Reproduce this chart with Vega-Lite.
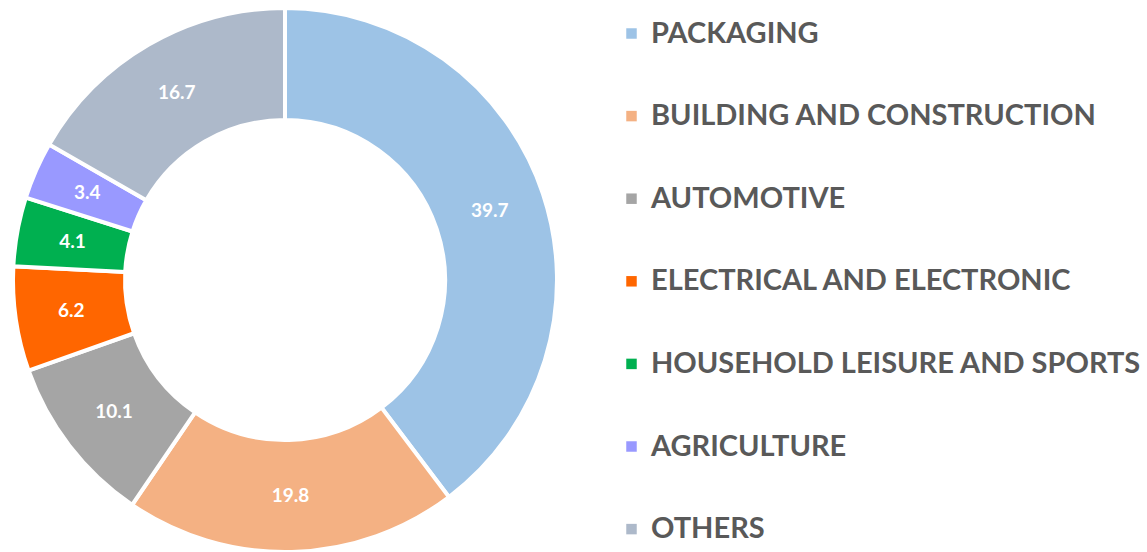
{
  "$schema": "https://vega.github.io/schema/vega-lite/v6.json",
  "width": 570,
  "height": 552,
  "padding": 0,
  "background": "white",
  "config": {"view": {"stroke": null}},
  "data": {"values": [
    {"sector": "PACKAGING", "share": 39.7, "rank": 1},
    {"sector": "BUILDING AND CONSTRUCTION", "share": 19.8, "rank": 2},
    {"sector": "AUTOMOTIVE", "share": 10.1, "rank": 3},
    {"sector": "ELECTRICAL AND ELECTRONIC", "share": 6.2, "rank": 4},
    {"sector": "HOUSEHOLD LEISURE AND SPORTS", "share": 4.1, "rank": 5},
    {"sector": "AGRICULTURE", "share": 3.4, "rank": 6},
    {"sector": "OTHERS", "share": 16.7, "rank": 7}
  ]},
  "encoding": {
    "theta": {"field": "share", "type": "quantitative", "stack": true},
    "order": {"field": "rank", "type": "quantitative"}
  },
  "layer": [
    {
      "mark": {"type": "arc", "outerRadius": 272, "innerRadius": 160, "stroke": "white", "strokeWidth": 4},
      "encoding": {
        "color": {
          "field": "sector", "type": "nominal",
          "sort": ["PACKAGING", "BUILDING AND CONSTRUCTION", "AUTOMOTIVE", "ELECTRICAL AND ELECTRONIC", "HOUSEHOLD LEISURE AND SPORTS", "AGRICULTURE", "OTHERS"],
          "scale": {
            "domain": ["PACKAGING", "BUILDING AND CONSTRUCTION", "AUTOMOTIVE", "ELECTRICAL AND ELECTRONIC", "HOUSEHOLD LEISURE AND SPORTS", "AGRICULTURE", "OTHERS"],
            "range": ["#9DC3E6", "#F4B183", "#A5A5A5", "#FF6600", "#00B050", "#9999FF", "#ADB9CA"]
          },
          "legend": {
            "title": null,
            "orient": "none",
            "legendX": 617,
            "legendY": 15,
            "symbolType": "square",
            "symbolSize": 110,
            "symbolStrokeWidth": 0,
            "labelFont": "Lato",
            "labelFontWeight": "bold",
            "labelFontSize": 29,
            "labelColor": "#595959",
            "labelLimit": 600,
            "labelOffset": 5,
            "rowPadding": 52.6,
            "padding": 0
          }
        }
      }
    },
    {
      "mark": {"type": "text", "radius": 216, "font": "Lato", "fontWeight": "bold", "fontSize": 19, "color": "white"},
      "encoding": {
        "text": {"field": "share", "type": "quantitative", "format": ".1f"}
      }
    }
  ]
}
